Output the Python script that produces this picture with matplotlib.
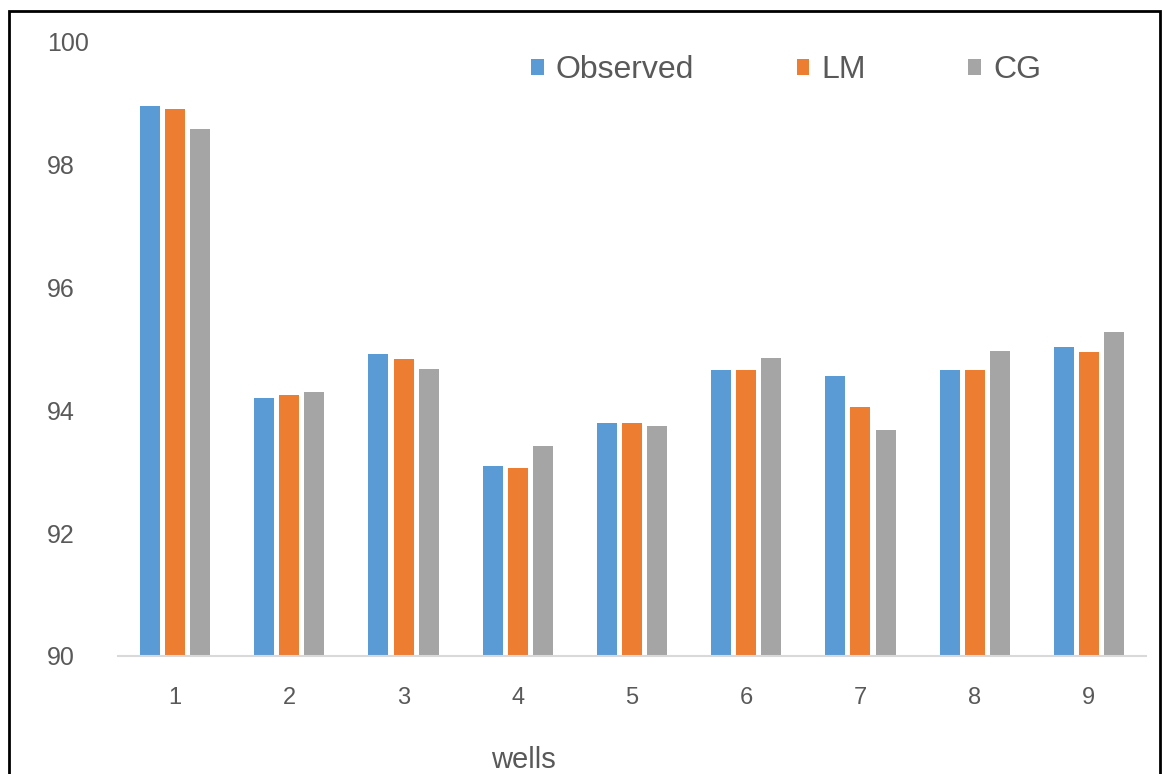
import matplotlib
matplotlib.use('Agg')
import matplotlib.pyplot as plt
import numpy as np
from matplotlib.patches import Rectangle

plt.rcParams['font.family'] = ['Liberation Sans', 'DejaVu Sans']

wells = ['1', '2', '3', '4', '5', '6', '7', '8', '9']
observed = [98.96, 94.21, 94.92, 93.09, 93.80, 94.65, 94.56, 94.65, 95.03]
lm = [98.91, 94.25, 94.83, 93.06, 93.80, 94.65, 94.06, 94.65, 94.95]
cg = [98.58, 94.30, 94.68, 93.42, 93.75, 94.85, 93.68, 94.97, 95.27]
yticks = [90, 92, 94, 96, 98, 100]

W, H = 1163, 774
fig = plt.figure(figsize=(W / 100, H / 100), dpi=100)
ax = fig.add_axes([118 / W, 1 - 656 / H, (1146 - 118) / W, (656 - 42) / H])

x = np.arange(len(wells))
step = 0.22
width = 0.175
ax.bar(x - step, observed, width, color='#5B9BD5', label='Observed')
ax.bar(x, lm, width, color='#ED7D31', label='LM')
ax.bar(x + step, cg, width, color='#A5A5A5', label='CG')

ax.set_ylim(90, 100)
ax.set_xlim(-0.5, len(wells) - 0.5)
ax.set_yticks(yticks)
ax.set_xticks(x)
ax.set_xticklabels(wells)

for s in ['top', 'right', 'left']:
    ax.spines[s].set_visible(False)
ax.spines['bottom'].set_color('#D9D9D9')
ax.spines['bottom'].set_linewidth(1.5)

ax.tick_params(axis='x', length=0, pad=22, labelsize=17, labelcolor='#595959')
ax.tick_params(axis='y', length=0, pad=51, labelsize=18, labelcolor='#595959')
for lbl in ax.get_yticklabels():
    lbl.set_horizontalalignment('left')

leg = ax.legend(ncol=3, loc='center left',
                bbox_to_anchor=((531 - 118) / (1146 - 118), (656 - 70) / (656 - 42)),
                frameon=False, fontsize=23, handlelength=0.4, handleheight=0.4,
                handletextpad=0.38, columnspacing=3.2, borderpad=0, borderaxespad=0)
for t in leg.get_texts():
    t.set_color('#595959')

fig.text(523 / W, 1 - 760 / H, 'wells', fontsize=21, color='#595959', ha='center', va='center')

# black frame round the picture
fig.patches.append(Rectangle((9 / W, -0.05), (1160 - 9) / W, (774 - 11) / H + 0.05,
                             transform=fig.transFigure, fill=False, edgecolor='black', linewidth=2))

fig.savefig('out.png', dpi=100)
